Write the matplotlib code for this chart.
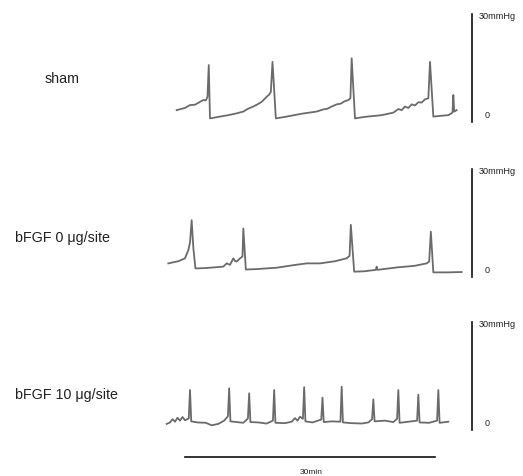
import matplotlib
matplotlib.use("Agg")
import matplotlib.pyplot as plt

# pressure traces, time in min, pressure in mmHg
sham_t = [-1.0, 0.0, 0.6, 1.2, 1.8, 2.2, 2.5, 2.7, 2.85, 3.0, 4.2, 5.2, 6.2, 7.0, 7.5, 8.2, 8.7,
          9.2, 9.8, 10.1, 10.3, 10.5, 10.9, 12.2, 14.0, 15.8, 16.6, 17.1, 17.6, 18.2, 18.7, 19.1,
          19.6, 19.85, 20.0, 20.4, 21.5, 23.6, 25.0, 25.6, 26.0, 26.4, 26.8, 27.2, 27.6, 28.0,
          28.4, 28.8, 29.2, 29.4, 29.8, 30.6, 31.6, 32.1, 32.2, 32.3, 32.6]
sham_p = [3.3, 3.9, 4.7, 4.8, 5.6, 6.1, 6.0, 7.0, 15.8, 1.0, 1.5, 1.9, 2.4, 2.9, 3.6, 4.3, 4.9,
          5.6, 7.0, 7.6, 8.4, 16.7, 1.0, 1.5, 2.3, 2.9, 3.5, 3.7, 4.3, 4.9, 5.1, 5.7,
          6.1, 6.6, 17.7, 1.0, 1.4, 1.9, 2.6, 3.6, 3.3, 4.3, 3.9, 4.9, 4.6, 5.5,
          5.4, 6.3, 6.6, 16.7, 1.5, 1.7, 1.9, 2.6, 7.5, 2.9, 3.3]

b0_t = [-2.0, -0.8, 0.0, 0.4, 0.6, 0.8, 1.0, 1.25, 2.5, 4.6, 5.0, 5.4, 5.8, 6.0, 6.2, 6.6, 6.9,
        7.0, 7.3, 8.5, 11.0, 13.0, 14.6, 16.2, 18.0, 19.4, 19.75, 19.9, 20.3, 21.5, 22.9, 23.0,
        23.1, 25.5, 27.5, 29.0, 29.3, 29.5, 29.8, 31.5, 33.2]
b0_p = [3.7, 4.3, 5.1, 7.4, 9.5, 15.7, 8.0, 2.3, 2.4, 2.8, 3.7, 3.3, 5.1, 4.4, 4.2, 5.1, 5.6,
        13.4, 2.0, 2.1, 2.5, 3.2, 3.7, 3.7, 4.3, 5.1, 5.8, 14.4, 1.4, 1.5, 1.9, 2.8,
        1.9, 2.6, 3.0, 3.7, 4.2, 12.5, 1.2, 1.2, 1.3]

b10_t = [-2.2, -1.8, -1.5, -1.2, -0.9, -0.6, -0.3, 0.0, 0.45, 0.6, 0.75, 1.5, 2.5, 3.2, 4.0, 4.7,
         5.15, 5.3, 5.45, 6.2, 7.0, 7.55, 7.7, 7.85, 8.8, 9.8, 10.55, 10.7, 10.85, 12.0, 12.8, 13.2,
         13.5, 13.8, 14.15, 14.3, 14.45, 15.3, 16.35, 16.5, 16.65, 17.6, 18.65, 18.8, 18.95, 20.0,
         21.2, 22.0, 22.45, 22.6, 22.75, 24.0, 25.0, 25.45, 25.6, 25.75, 26.8, 27.85, 28.0, 28.15,
         29.3, 30.25, 30.4, 30.55, 31.6]
b10_p = [1.7, 2.1, 3.0, 2.3, 3.4, 2.6, 3.6, 2.7, 3.2, 11.1, 2.4, 2.1, 2.0, 1.3, 1.7, 2.6,
         3.8, 11.6, 2.4, 2.2, 2.0, 3.2, 10.2, 2.2, 2.1, 1.8, 2.6, 11.1, 2.0, 1.9, 2.3, 3.3,
         2.6, 3.7, 3.1, 11.9, 2.4, 2.1, 2.9, 9.0, 2.2, 2.4, 2.3, 12.0, 2.1, 1.9,
         1.8, 2.1, 3.0, 8.5, 2.4, 2.6, 2.2, 3.1, 11.1, 2.0, 2.3, 2.6, 9.8, 2.1,
         2.0, 2.6, 11.1, 2.0, 2.3]

labels = ["sham", "bFGF 0 \u03bcg/site", "bFGF 10 \u03bcg/site"]
traces = [(sham_t, sham_p), (b0_t, b0_p), (b10_t, b10_p)]

plt.rcParams["font.family"] = ["Liberation Sans", "DejaVu Sans"]

W, H = 523, 476
fig = plt.figure(figsize=(W / 100, H / 100), dpi=100)

# px per unit: 8.333 px/min, 3.6 px/mmHg
xlo, xhi = -4, 38
ylo, yhi = -4, 33.5
ax_w = (xhi - xlo) * 250 / 30
ax_h = (yhi - ylo) * 3.6
left = 185 + xlo * 250 / 30
zero_rows = [122, 276.7, 430]  # pixel row of 0 mmHg in each panel
label_rows = [79, 237.7, 395]

for i, (t, p) in enumerate(traces):
    bottom = H - zero_rows[i] + ylo * 3.6
    ax = fig.add_axes([left / W, bottom / H, ax_w / W, ax_h / H])
    ax.plot(t, p, color="#6b6b6b", lw=1.3)
    ax.set_xlim(xlo, xhi)
    ax.set_ylim(ylo, yhi)
    ax.axis("off")
    # 30 mmHg scale bar
    ax.plot([34.4, 34.4], [0, 30], color="#111111", lw=1.2, clip_on=False)
    ax.text(35.2, 29.3, "30mmHg", fontsize=6.6, color="#222222", va="center", ha="left")
    ax.text(35.9, 1.8, "0", fontsize=6.5, color="#222222", va="center", ha="left")
    if i == 2:
        ax.plot([0, 30], [-7.4, -7.4], color="#111111", lw=1.2, clip_on=False)
        ax.text(15.2, -11.9, "30min", fontsize=6, color="#222222", va="center", ha="center",
                clip_on=False)
    if i == 0:
        fig.text(62 / W, 1 - label_rows[i] / H, labels[i], fontsize=10.3, color="#222222",
                 ha="center", va="center")
    else:
        fig.text(15 / W, 1 - label_rows[i] / H, labels[i], fontsize=10.3, color="#222222",
                 ha="left", va="center")

fig.savefig("out.png", dpi=100)
